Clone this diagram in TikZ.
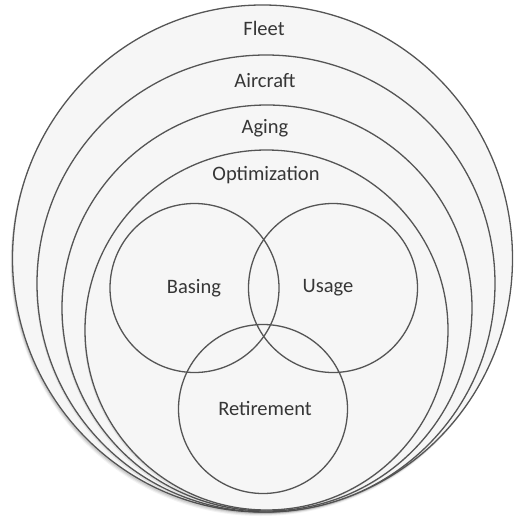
\documentclass[tikz,border=0pt]{standalone}
\usepackage{fontspec}
\setmainfont{Carlito}
\usetikzlibrary{shapes.geometric}
\definecolor{ringline}{HTML}{555555}
\definecolor{ringfill}{HTML}{F6F6F6}
\definecolor{labeltext}{HTML}{363636}
\tikzset{
  ring/.style={ellipse, draw=ringline, line width=1.3pt, fill=ringfill, inner sep=0pt},
  venn/.style={circle, draw=ringline, line width=1.3pt, inner sep=0pt, minimum size=169pt},
  shade ring/.style={ellipse, fill=black, inner sep=0pt},
  lbl/.style={text=labeltext, font=\fontsize{20.5}{22}\selectfont, inner sep=0pt}
}
\begin{document}
\begin{tikzpicture}[x=1pt,y=-1pt]
\useasboundingbox (0,0) rectangle (517,519);
% soft shadows
\foreach \o/\d in {0.05/4,0.07/3,0.09/2}{
  \node[shade ring, opacity=\o, minimum width=500pt, minimum height=507pt] at (262.5-\d/2,258.5+\d) {};
}
\node[ring, minimum width=500pt, minimum height=507pt] (fleet) at (262.5,258.5) {};
\node[shade ring, opacity=0.08, minimum width=458pt, minimum height=457pt] at (265,285.5) {};
\node[ring, minimum width=458pt, minimum height=457pt] (aircraft) at (266,283.5) {};
\node[shade ring, opacity=0.08, minimum width=410pt, minimum height=406pt] at (266,310) {};
\node[ring, minimum width=410pt, minimum height=406pt] (aging) at (267,308) {};
\node[shade ring, opacity=0.08, minimum width=363pt, minimum height=360pt] at (265.5,332) {};
\node[ring, minimum width=363pt, minimum height=360pt] (optimization) at (266.5,330) {};
% Venn circles
\node[venn] (basing) at (194.5,288) {};
\node[venn] (usage) at (333,288) {};
\node[venn] (retirement) at (263,409) {};
% labels
\node[lbl] (tfleet) at (264,28) {Fleet};
\node[lbl] (taircraft) at (265,81) {Aircraft};
\node[lbl] (taging) at (265,128) {Aging};
\node[lbl] (toptimization) at (266,175) {Optimization};
\node[lbl] (tbasing) at (194,288) {Basing};
\node[lbl] (tusage) at (328,288) {Usage};
\node[lbl] (tretirement) at (265,408) {Retirement};
\end{tikzpicture}
\end{document}
